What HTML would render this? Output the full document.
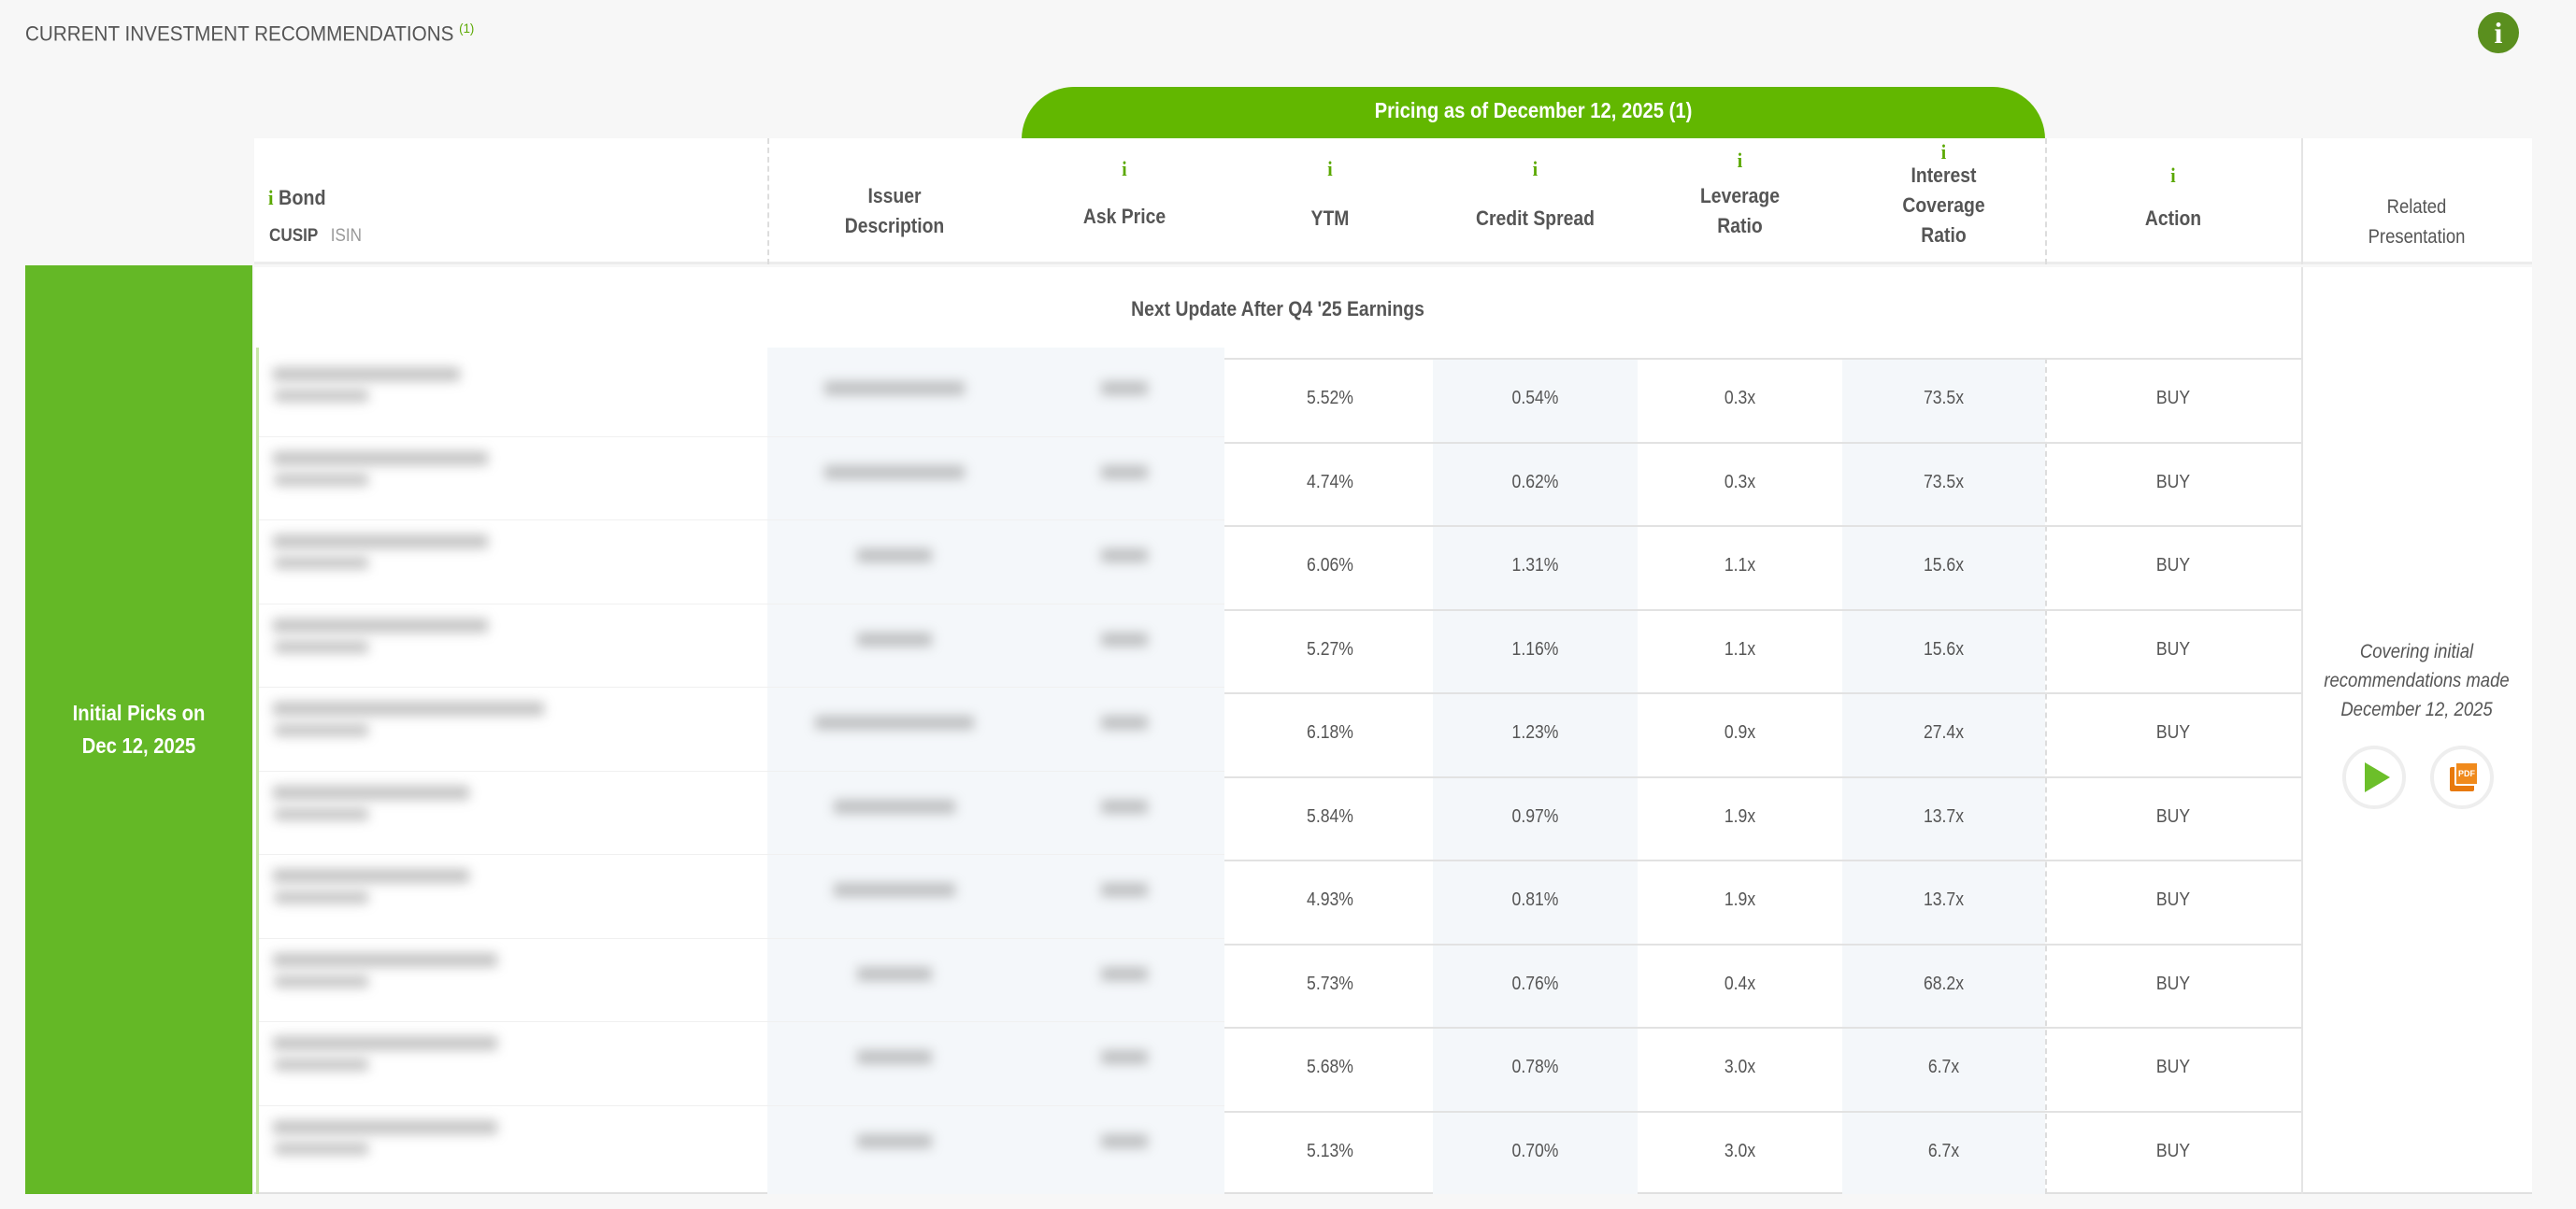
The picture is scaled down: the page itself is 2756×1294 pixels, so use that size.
<!DOCTYPE html>
<html><head><meta charset="utf-8"><style>
*{margin:0;padding:0;box-sizing:border-box}
body{width:2756px;height:1294px;background:#f7f7f7;position:relative;overflow:hidden;font-family:"Liberation Sans",sans-serif;color:#555}
.a{position:absolute}
.c{position:absolute;text-align:center;white-space:nowrap;transform:scaleX(.88);transform-origin:center}
.h{font-size:22px;font-weight:bold;color:#555}
.v{font-size:20px;color:#555}
.i{color:#5aa800;font-weight:bold;font-family:"Liberation Serif",serif;font-size:22px}
.bl{position:absolute;background:#8a8a8a;filter:blur(6px);opacity:.5;height:15px}
</style></head><body>
<div class="a" style="left:27px;top:22px;font-size:22px;color:#555;transform:scaleX(.94);transform-origin:left">CURRENT INVESTMENT RECOMMENDATIONS <sup style="color:#5aa800;font-size:14px">(1)</sup></div>
<div class="a" style="left:2651px;top:13px;width:44px;height:44px;border-radius:50%;background:#5a8f1e;color:#fff;text-align:center;font:bold 32px/44px 'Liberation Serif',serif">i</div>

<div class="a" style="left:1093px;top:93px;width:1095px;height:56px;background:#62b700;border-radius:58px 58px 0 0"></div>
<div class="c" style="left:1093px;top:105px;width:1095px;font-size:23px;font-weight:bold;color:#fff">Pricing as of December 12, 2025 (1)</div>

<!-- header row -->
<div class="a" style="left:272px;top:148px;width:2437px;height:135px;background:#fff;border-bottom:3px solid #ececec"></div>
<div class="a" style="left:821px;top:148px;height:135px;border-left:2px dashed #ddd"></div>
<div class="a" style="left:2188px;top:148px;height:135px;border-left:2px dashed #ddd"></div>
<div class="a" style="left:2462px;top:148px;height:135px;border-left:2px solid #e4e4e4"></div>

<div class="a h" style="left:287px;top:199px;transform:scaleX(.9);transform-origin:left"><span class="i">i</span> Bond</div>
<div class="a" style="left:288px;top:242px;font-size:19px;font-weight:bold;color:#555;transform:scaleX(.9);transform-origin:left">CUSIP <span style="font-weight:normal;color:#999;margin-left:10px">ISIN</span></div>
<div class="c h" style="left:821px;top:194px;width:272px;line-height:32px">Issuer<br>Description</div>
<div class="c i" style="left:1093px;top:168px;width:220px">i</div>
<div class="c h" style="left:1093px;top:219px;width:220px">Ask Price</div>
<div class="c i" style="left:1313px;top:168px;width:220px">i</div>
<div class="c h" style="left:1313px;top:221px;width:220px">YTM</div>
<div class="c i" style="left:1533px;top:168px;width:219px">i</div>
<div class="c h" style="left:1533px;top:221px;width:219px">Credit Spread</div>
<div class="c i" style="left:1752px;top:159px;width:219px">i</div>
<div class="c h" style="left:1752px;top:194px;width:219px;line-height:32px">Leverage<br>Ratio</div>
<div class="c i" style="left:1971px;top:150px;width:217px">i</div>
<div class="c h" style="left:1971px;top:172px;width:217px;line-height:32px">Interest<br>Coverage<br>Ratio</div>
<div class="c i" style="left:2188px;top:175px;width:274px">i</div>
<div class="c h" style="left:2188px;top:221px;width:274px">Action</div>
<div class="c" style="left:2462px;top:206px;width:247px;font-size:21px;line-height:32px;color:#555">Related<br>Presentation</div>

<!-- left green -->
<div class="a" style="left:27px;top:284px;width:243px;height:994px;background:#64b826"></div>
<div class="c" style="left:27px;top:746px;width:243px;font-size:23px;font-weight:bold;color:#fff;line-height:35px">Initial Picks on<br>Dec 12, 2025</div>

<!-- body -->
<div class="a" style="left:272px;top:286px;width:2437px;height:992px;background:#fff;border-bottom:2px solid #e0e0e0"></div>
<div class="a" style="left:2188px;top:383px;height:895px;border-left:2px dashed #ddd"></div>
<div class="a" style="left:2462px;top:286px;height:992px;border-left:2px solid #e4e4e4"></div>
<div class="c" style="left:272px;top:318px;width:2190px;font-size:22px;font-weight:bold;color:#555">Next Update After Q4 '25 Earnings</div>
<div class="a" style="left:1533px;top:383px;width:219px;height:895px;background:#f4f7fa"></div>
<div class="a" style="left:1971px;top:383px;width:217px;height:895px;background:#f4f7fa"></div>
<div class="a" style="left:821px;top:372px;width:489px;height:906px;background:#f4f7fa"></div>
<div class="a" style="left:274px;top:372px;width:3px;height:906px;background:#c8e6a8"></div>

<div id="rows"></div>
<script>
var d=[["5.52%","0.54%","0.3x","73.5x",200,150],["4.74%","0.62%","0.3x","73.5x",230,150],["6.06%","1.31%","1.1x","15.6x",230,80],["5.27%","1.16%","1.1x","15.6x",230,80],["6.18%","1.23%","0.9x","27.4x",290,170],["5.84%","0.97%","1.9x","13.7x",210,130],["4.93%","0.81%","1.9x","13.7x",210,130],["5.73%","0.76%","0.4x","68.2x",240,80],["5.68%","0.78%","3.0x","6.7x",240,80],["5.13%","0.70%","3.0x","6.7x",240,80]];
var h="";
for(var i=0;i<10;i++){var t=383+89.5*i;
h+='<div class="a" style="left:1310px;top:'+t+'px;width:1152px;border-top:2px solid #e2e2e2"></div>';
if(i>0)h+='<div class="a" style="left:277px;top:'+(t-6)+'px;width:1033px;border-top:1px solid #f0f0f0"></div>';
var cy=t+32;
h+='<div class="c v" style="left:1313px;top:'+cy+'px;width:220px">'+d[i][0]+'</div>';
h+='<div class="c v" style="left:1533px;top:'+cy+'px;width:219px">'+d[i][1]+'</div>';
h+='<div class="c v" style="left:1752px;top:'+cy+'px;width:219px">'+d[i][2]+'</div>';
h+='<div class="c v" style="left:1971px;top:'+cy+'px;width:217px">'+d[i][3]+'</div>';
h+='<div class="c v" style="left:2188px;top:'+cy+'px;width:274px">BUY</div>';
h+='<div class="bl" style="left:292px;top:'+(t+10)+'px;width:'+d[i][4]+'px"></div>';
h+='<div class="bl" style="left:294px;top:'+(t+34)+'px;width:100px;height:13px"></div>';
h+='<div class="bl" style="left:'+(957-d[i][5]/2)+'px;top:'+(t+25)+'px;width:'+d[i][5]+'px"></div>';
h+='<div class="bl" style="left:1178px;top:'+(t+25)+'px;width:50px"></div>';
}
document.getElementById("rows").innerHTML=h;
</script>

<div class="c" style="left:2462px;top:682px;width:247px;font-size:21px;font-style:italic;line-height:31px;color:#555">Covering initial<br>recommendations made<br>December 12, 2025</div>
<div class="a" style="left:2506px;top:798px;width:68px;height:68px;border-radius:50%;border:4px solid #eee;background:#fff"></div>
<div class="a" style="left:2530px;top:816px;width:0;height:0;border-top:16px solid transparent;border-bottom:16px solid transparent;border-left:27px solid #6cbf2a"></div>
<div class="a" style="left:2600px;top:798px;width:68px;height:68px;border-radius:50%;border:4px solid #eee;background:#fff"></div>
<div class="a" style="left:2621px;top:821px;width:26px;height:26px;background:#e8790c;border-radius:2px"></div>
<div class="a" style="left:2626px;top:815px;width:26px;height:26px;background:#f08a1c;border:2px solid #fff;border-radius:2px;color:#fff;font:bold 9px/22px 'Liberation Sans',sans-serif;text-align:center">PDF</div>
</body></html>
